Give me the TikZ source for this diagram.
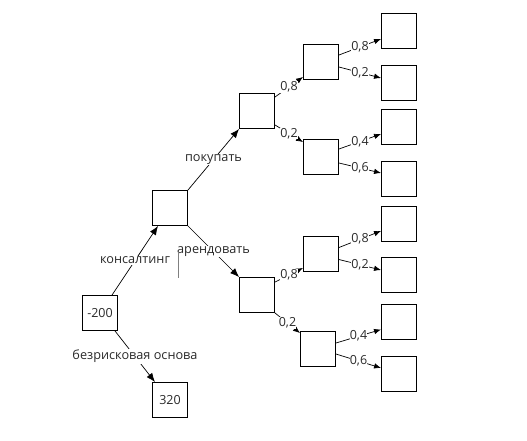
\documentclass[tikz,border=0pt]{standalone}
\usepackage{fontspec}
\setmainfont{Open Sans}
\usetikzlibrary{arrows.meta,calc}
\definecolor{txt}{HTML}{2A2A2A}
\tikzset{
  box/.style={draw=black,line width=0.9pt,minimum width=35pt,minimum height=35pt,inner sep=0pt,font=\fontsize{12.5}{14}\selectfont,text=txt},
  conn/.style={line width=0.7pt,-{Latex[length=9pt,width=7pt]}},
  sconn/.style={line width=0.7pt,-{Latex[length=7pt,width=5.5pt]}},
  lab/.style={fill=white,inner sep=1pt,text=txt,font=\fontsize{12.7}{14}\selectfont},
  slab/.style={fill=white,inner sep=0.3pt,text=txt,font=\fontsize{12.5}{14}\selectfont}
}
\begin{document}
\begin{tikzpicture}[x=1pt,y=-1pt]
\useasboundingbox (0,0) rectangle (527,440);
% main nodes
\node[box] (m) at (100,313) {-200};
\node[box] (r) at (170,400) {320};
\node[box] (c) at (170,208) {};
\node[box] (p) at (257,111) {};
\node[box] (a) at (257,295) {};
\node[box] (u1) at (321,62) {};
\node[box] (l1) at (321,157) {};
\node[box] (u2) at (321,254) {};
\node[box] (l2) at (318,349) {};
% leaves
\node[box] (f1) at (399,31) {};
\node[box] (f2) at (399,83) {};
\node[box] (f3) at (399,127) {};
\node[box] (f4) at (399,179) {};
\node[box] (f5) at (399,224) {};
\node[box] (f6) at (399,275) {};
\node[box] (f7) at (399,322) {};
\node[box] (f8) at (399,374) {};
% main connectors
\draw[conn] ($(m.north)+(12,0)$) -- node[lab]{консалтинг} ($(c.south)+(-12,0)$);
\draw[conn] ($(m.south)+(15,0)$) -- node[lab]{безрисковая основа} ($(r.north)+(-15,0)$);
\draw[conn] (c.north east) -- node[lab]{покупать} (p.south west);
\draw[conn] (c.south east) -- node[lab]{арендовать} (a.north west);
% second level
\draw[sconn] ($(p.north east)+(0,4)$) -- node[slab]{0,8} ($(u1.south west)+(0,-3)$);
\draw[sconn] ($(p.south east)+(0,-4)$) -- node[slab]{0,2} ($(l1.north west)+(0,3)$);
\draw[sconn] ($(a.north east)+(0,5)$) -- node[slab]{0,8} ($(u2.south west)+(0,-4)$);
\draw[sconn] ($(a.south east)+(0,0)$) -- node[slab]{0,2} ($(l2.north west)+(0,2)$);
% third level
\draw[sconn] ($(u1.east)+(0,-7)$) -- node[slab]{0,8} ($(f1.west)+(0,8)$);
\draw[sconn] ($(u1.east)+(0,5)$) -- node[slab]{0,2} ($(f2.west)+(0,-5)$);
\draw[sconn] ($(l1.east)+(0,-8)$) -- node[slab]{0,4} ($(f3.west)+(0,7)$);
\draw[sconn] ($(l1.east)+(0,6)$) -- node[slab]{0,6} ($(f4.west)+(0,-6)$);
\draw[sconn] ($(u2.east)+(0,-6.5)$) -- node[slab]{0,8} ($(f5.west)+(0,7)$);
\draw[sconn] ($(u2.east)+(0,5.5)$) -- node[slab]{0,2} ($(f6.west)+(0,-5)$);
\draw[sconn] ($(l2.east)+(0,-6)$) -- node[slab]{0,4} ($(f7.west)+(0,7.5)$);
\draw[sconn] ($(l2.east)+(0,5)$) -- node[slab]{0,6} ($(f8.west)+(0,-6)$);
% stray mark
\coordinate (s1) at (178,252);
\coordinate (s2) at (178,278);
\draw[line width=0.6pt,gray] (s1) -- (s2);
\end{tikzpicture}
\end{document}
